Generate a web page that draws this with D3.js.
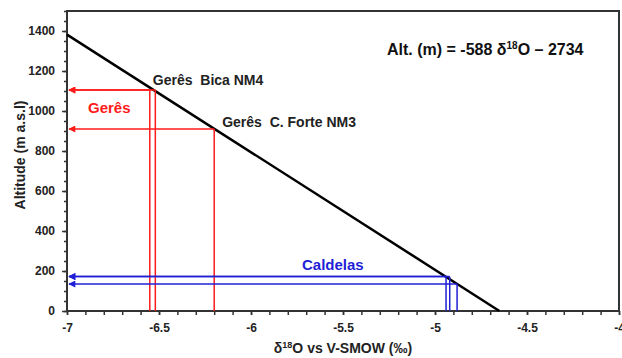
<!DOCTYPE html>
<html>
<head>
<meta charset="utf-8">
<script src="https://cdn.jsdelivr.net/npm/d3@7"></script>
<style>
  body { margin: 0; background: #fff; }
  text { font-family: "Liberation Sans", Arial, sans-serif; }
</style>
</head>
<body>
<script>
'use strict';

// axis ticks
const xTicks = [-7, -6.5, -6, -5.5, -5, -4.5, -4];
const xTickLabels = ["-7", "-6.5", "-6", "-5.5", "-5", "-4.5", "-4"];
const yTicks = [0, 200, 400, 600, 800, 1000, 1200, 1400];

// regression line Alt = -588 d18O - 2734
const slope = -588;
const intercept = -2734;
const lineD18O = [-7, -4.65];

// samples (d18O, altitude)
const geresD18O = [-6.55, -6.52, -6.2];
const geresAlt = [1105, 1105, 910];
const caldelasD18O = [-4.94, -4.92, -4.88];
const caldelasAlt = [172, 172, 135];

const W = 622, H = 358;
const margin = { top: 11, right: 3, bottom: 47, left: 67 };

const svg = d3.select('body').append('svg')
    .attr('width', W)
    .attr('height', H);

const xScale = d3.scaleLinear()
    .domain([-7, -4])
    .range([margin.left, W - margin.right]);

const yScale = d3.scaleLinear()
    .domain([0, 1500])
    .range([H - margin.bottom, margin.top]);

const axisColor = '#333';

// arrow markers (drawn along the line direction)
function addMarker(id, color) {
    svg.append('defs').append('marker')
        .attr('id', id)
        .attr('viewBox', '0 0 10 10')
        .attr('refX', 9)
        .attr('refY', 5)
        .attr('markerWidth', 8)
        .attr('markerHeight', 7)
        .attr('markerUnits', 'userSpaceOnUse')
        .attr('orient', 'auto')
        .append('path')
        .attr('d', 'M0,0 L10,5 L0,10 Z')
        .attr('fill', color);
}
addMarker('arrRed', '#ff1a1a');
addMarker('arrBlue', '#1f1fd6');

// minor ticks
svg.append('g')
    .attr('transform', 'translate(0,' + yScale(0) + ')')
    .call(d3.axisBottom(xScale).tickValues(d3.range(-7, -3.99, 0.1)).tickSize(4).tickFormat(''))
    .call(g => g.select('.domain').remove())
    .call(g => g.selectAll('line').attr('stroke', axisColor).attr('stroke-width', 1.5));

svg.append('g')
    .attr('transform', 'translate(' + xScale(-7) + ',0)')
    .call(d3.axisLeft(yScale).tickValues(d3.range(0, 1501, 50)).tickSize(3).tickFormat(''))
    .call(g => g.select('.domain').remove())
    .call(g => g.selectAll('line').attr('stroke', axisColor).attr('stroke-width', 1.5));

// major axes
const xAxis = svg.append('g')
    .attr('transform', 'translate(0,' + yScale(0) + ')')
    .call(d3.axisBottom(xScale).tickValues(xTicks).tickSize(4).tickPadding(8)
        .tickFormat((d, i) => xTickLabels[i]));
xAxis.select('.domain').remove();
xAxis.selectAll('line').attr('stroke', axisColor).attr('stroke-width', 1.5);
xAxis.selectAll('text')
    .attr('fill', '#222')
    .style('font-size', '12px')
    .style('font-weight', 'bold');

const yAxis = svg.append('g')
    .attr('transform', 'translate(' + xScale(-7) + ',0)')
    .call(d3.axisLeft(yScale).tickValues(yTicks).tickSize(5).tickPadding(7)
        .tickFormat(d3.format('d')));
yAxis.select('.domain').remove();
yAxis.selectAll('line').attr('stroke', axisColor).attr('stroke-width', 1.5);
yAxis.selectAll('text')
    .attr('fill', '#222')
    .style('font-size', '12px')
    .style('font-weight', 'bold');

// frame
svg.append('rect')
    .attr('x', xScale(-7))
    .attr('y', yScale(1500))
    .attr('width', xScale(-4) - xScale(-7))
    .attr('height', yScale(0) - yScale(1500))
    .attr('fill', 'none')
    .attr('stroke', axisColor)
    .attr('stroke-width', 2);

// regression line
svg.append('line')
    .attr('x1', xScale(lineD18O[0]))
    .attr('y1', yScale(slope * lineD18O[0] + intercept))
    .attr('x2', xScale(lineD18O[1]))
    .attr('y2', yScale(Math.max(0, slope * lineD18O[1] + intercept)))
    .attr('stroke', '#000')
    .attr('stroke-width', 2.5);

// projection lines for a group of samples
function drawGroup(xs, ys, color, marker) {
    const g = svg.append('g');
    xs.forEach((d, i) => {
        g.append('line')
            .attr('x1', xScale(d)).attr('y1', yScale(0))
            .attr('x2', xScale(d)).attr('y2', yScale(ys[i]))
            .attr('stroke', color).attr('stroke-width', 1.5);
        g.append('line')
            .attr('x1', xScale(d)).attr('y1', yScale(ys[i]))
            .attr('x2', xScale(-7) + 2).attr('y2', yScale(ys[i]))
            .attr('stroke', color).attr('stroke-width', 1.5)
            .attr('marker-end', 'url(#' + marker + ')');
    });
}
drawGroup(geresD18O, geresAlt, '#ff1a1a', 'arrRed');
drawGroup(caldelasD18O, caldelasAlt, '#1f1fd6', 'arrBlue');

// sample labels
svg.append('text')
    .attr('x', xScale(geresD18O[0]) + 3)
    .attr('y', yScale(geresAlt[0]) - 5)
    .attr('fill', '#222')
    .style('font-size', '14px')
    .style('font-weight', 'bold')
    .text('Gerês\u00a0 Bica NM4');

svg.append('text')
    .attr('x', xScale(geresD18O[2]) + 8)
    .attr('y', yScale(geresAlt[2]) - 2)
    .attr('fill', '#222')
    .style('font-size', '14px')
    .style('font-weight', 'bold')
    .text('Gerês\u00a0 C. Forte NM3');

svg.append('text')
    .attr('x', 88)
    .attr('y', 113)
    .attr('fill', '#ff1a1a')
    .style('font-size', '15px')
    .style('font-weight', 'bold')
    .text('Gerês');

svg.append('text')
    .attr('x', 302)
    .attr('y', 270)
    .attr('fill', '#1f1fd6')
    .style('font-size', '15px')
    .style('font-weight', 'bold')
    .text('Caldelas');

// equation
const eq = svg.append('text')
    .attr('x', 387)
    .attr('y', 55)
    .attr('fill', '#111')
    .style('font-size', '16px')
    .style('font-weight', 'bold');
eq.append('tspan').text('Alt. (m) = -588 δ');
eq.append('tspan').attr('dy', -6).style('font-size', '10px').text('18');
eq.append('tspan').attr('dy', 6).text('O – 2734');

// axis titles
const xt = svg.append('text')
    .attr('x', 343)
    .attr('y', 353)
    .attr('text-anchor', 'middle')
    .attr('fill', '#222')
    .style('font-size', '14px')
    .style('font-weight', 'bold');
xt.append('tspan').text('δ');
xt.append('tspan').attr('dy', -5).style('font-size', '9px').text('18');
xt.append('tspan').attr('dy', 5).text('O vs V-SMOW (‰)');

svg.append('text')
    .attr('transform', 'translate(25,' + yScale(780) + ') rotate(-90)')
    .attr('text-anchor', 'middle')
    .attr('fill', '#222')
    .style('font-size', '14px')
    .style('font-weight', 'bold')
    .text('Altitude (m a.s.l)');
</script>
</body>
</html>
